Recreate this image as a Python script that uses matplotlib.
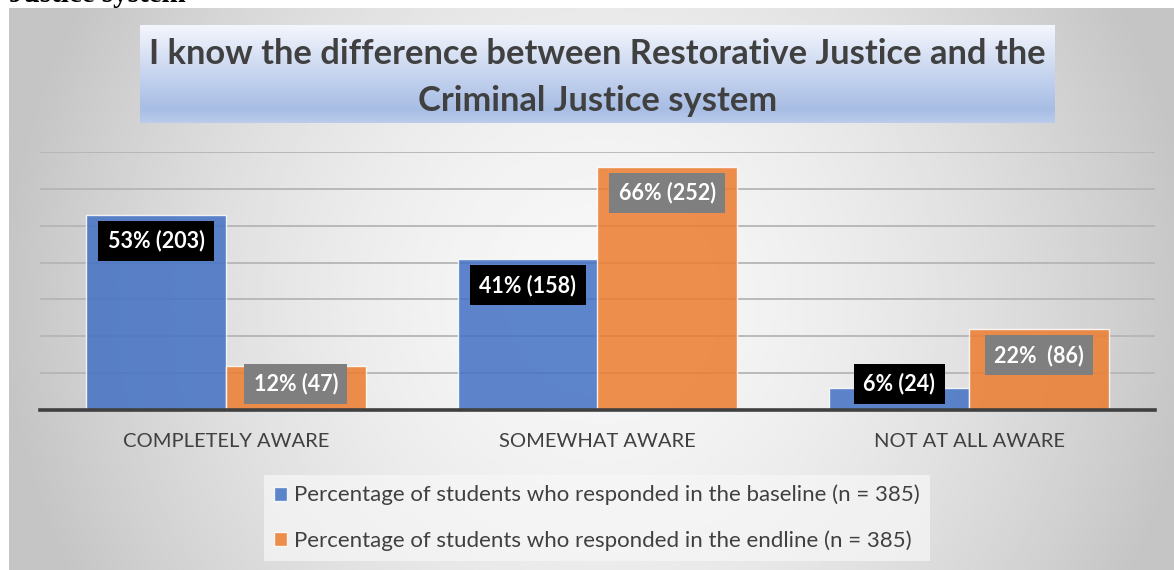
import numpy as np
import matplotlib
matplotlib.use("Agg")
import matplotlib.pyplot as plt
from matplotlib.patches import Patch

plt.rcParams['font.family'] = ['Lato', 'DejaVu Sans']

# ---- data ----
categories = ["COMPLETELY AWARE", "SOMEWHAT AWARE", "NOT AT ALL AWARE"]
baseline_pct = [53, 41, 6]
baseline_n = [203, 158, 24]
endline_pct = [12, 66, 22]
endline_n = [47, 252, 86]
endline_sep = [" ", " ", "  "]
baseline_name = "Percentage of students who responded in the baseline (n = 385)"
endline_name = "Percentage of students who responded in the endline (n = 385)"
title = "I know the difference between Restorative Justice and the\nCriminal Justice system"

W, H = 1174, 570
fig = plt.figure(figsize=(W / 100, H / 100), dpi=100)
fig.patch.set_facecolor("white")

def fx(px):
    return px / W

def fy(py):
    return 1 - py / H

# ---- chart background (radial grey gradient) ----
bg = fig.add_axes([fx(9), 0, 1 - fx(9), fy(8)], zorder=-10)
gx = np.linspace(9, W, 400)
gy = np.linspace(8, H, 200)
X, Y = np.meshgrid(gx, gy)
r = np.sqrt(((X - 600) / 600) ** 2 + ((Y - 300) / 620) ** 2)
light, dark = 0.97, 0.77
val = light - (light - dark) * np.clip(r, 0, 1) ** 1.7
bg.imshow(val, cmap="gray", vmin=0, vmax=1, aspect="auto",
          extent=[0, 1, 0, 1], interpolation="bilinear")
bg.set_xlim(0, 1)
bg.set_ylim(0, 1)
bg.axis("off")

# ---- heading text of the page, running above the chart frame ----
fig.text(fx(9), fy(1.5), "Justice system", family="Liberation Serif",
         fontweight="bold", fontsize=21, color="black", va="baseline",
         ha="left", zorder=-20)

# ---- main axes ----
ax = fig.add_axes([fx(40), fy(410), fx(1155) - fx(40), fy(152) - fy(410)])
ax.set_facecolor("none")
x = np.arange(len(categories))
bw = 0.376
blue = "#4472c4"
orange = "#ed7d31"
ax.bar(x - bw / 2, baseline_pct, bw, color=blue, alpha=0.86,
       edgecolor=(1, 1, 1, 0.5), linewidth=1, zorder=3)
ax.bar(x + bw / 2, endline_pct, bw, color=orange, alpha=0.86,
       edgecolor=(1, 1, 1, 0.5), linewidth=1, zorder=3)

ax.set_xlim(-0.5, len(categories) - 0.5)
ax.set_ylim(0, 70)
ax.set_yticks(np.arange(0, 71, 10))
ax.yaxis.grid(True, color="#b5b5b5", linewidth=1.3, zorder=1)
ax.set_axisbelow(True)
for s in ["left", "right", "top"]:
    ax.spines[s].set_visible(False)
ax.spines["bottom"].set_color("#404040")
ax.spines["bottom"].set_linewidth(2.6)
ax.spines["bottom"].set_zorder(5)
ax.tick_params(axis="y", left=False, labelleft=False)
ax.tick_params(axis="x", bottom=False, pad=13)
ax.set_xticks(x)
ax.set_xticklabels(categories, fontsize=14.5, color="#404040")

# value labels inside the bar ends
offset = 7.1
label_kw = dict(ha="center", va="center", color="white", fontsize=15.5,
                fontweight="bold", zorder=6)
for xi, p, n in zip(x, baseline_pct, baseline_n):
    ax.text(xi - bw / 2, max(p - offset, offset), f"{p}% ({n})",
            bbox=dict(boxstyle="square,pad=0.44", fc="black", ec="none"),
            **label_kw)
for xi, p, n, sep in zip(x, endline_pct, endline_n, endline_sep):
    ax.text(xi + bw / 2, max(p - offset, offset), f"{p}%{sep}({n})",
            bbox=dict(boxstyle="square,pad=0.44", fc="#7f7f7f", ec="none"),
            **label_kw)

# ---- title banner with vertical blue gradient ----
tax = fig.add_axes([fx(140), fy(123), fx(1055) - fx(140), fy(25) - fy(123)])
stops = np.array([0.0, 0.55, 0.86, 1.0])
cols = np.array([[0xf4, 0xf6, 0xfc],
                 [0xc2, 0xd1, 0xee],
                 [0xa8, 0xbd, 0xe4],
                 [0xbb, 0xcc, 0xec]]) / 255.0
t = np.linspace(0, 1, 200)
grad = np.stack([np.interp(t, stops, cols[:, k]) for k in range(3)], axis=1)
tax.imshow(grad[:, None, :], aspect="auto", extent=[0, 1, 0, 1],
           interpolation="bilinear")
tax.set_xlim(0, 1)
tax.set_ylim(0, 1)
tax.axis("off")
tax.text(0.5, 0.465, title, ha="center", va="center", fontsize=24.8,
         fontweight="bold", color="#404040", linespacing=1.58,
         transform=tax.transAxes)

# ---- legend ----
handles = [Patch(facecolor=blue, alpha=0.86, edgecolor=(1, 1, 1, 0.5)),
           Patch(facecolor=orange, alpha=0.86, edgecolor=(1, 1, 1, 0.5))]
fig.legend(handles, [baseline_name, endline_name],
           loc="center", bbox_to_anchor=(fx(597), fy(518)),
           fontsize=16, frameon=True, fancybox=False,
           facecolor="#f7f7f7", edgecolor="none", framealpha=0.7,
           handlelength=0.6, handleheight=0.6, handletextpad=0.3,
           labelspacing=1.13, borderpad=0.45, labelcolor="#404040")

fig.savefig("out.png", dpi=100)
